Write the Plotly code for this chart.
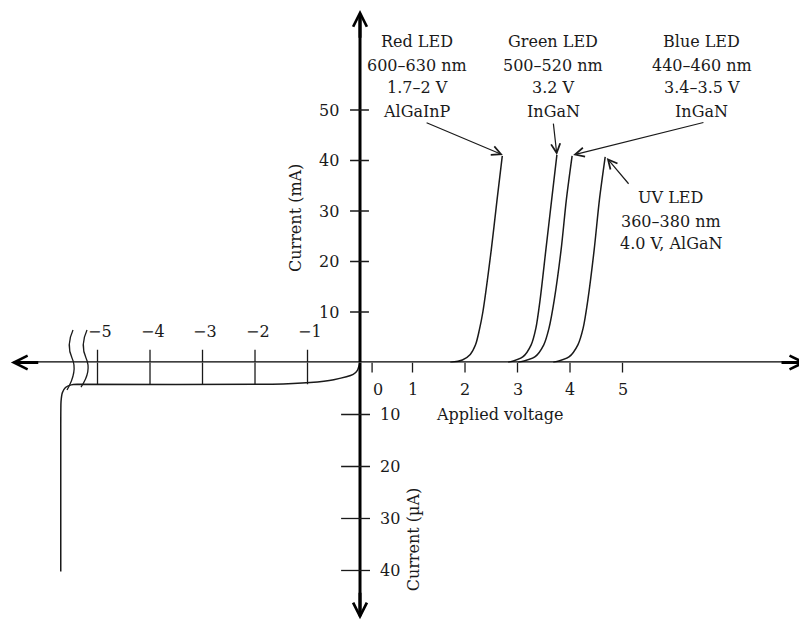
import plotly.graph_objects as go

# ---------------- data ----------------
# Forward characteristics: voltage (V) and current (mA)
red_v = [1.72, 1.95, 2.10, 2.20, 2.27, 2.34, 2.50, 2.61, 2.71]
red_i = [0, 0.5, 1.6, 3.5, 6.3, 10.0, 22.3, 32.2, 40.9]
green_v = [2.82, 3.10, 3.26, 3.35, 3.43, 3.54, 3.65, 3.75]
green_i = [0, 1.1, 3.5, 6.8, 12.4, 22.3, 32.2, 41.1]
blue_v = [3.01, 3.33, 3.50, 3.60, 3.70, 3.83, 3.93, 4.04]
blue_i = [0, 1.1, 3.5, 6.8, 12.4, 22.3, 32.2, 40.9]
uv_v = [3.68, 3.98, 4.15, 4.25, 4.34, 4.46, 4.56, 4.67]
uv_i = [0, 1.1, 3.5, 6.8, 12.4, 22.3, 32.2, 40.7]

# Reverse characteristic: voltage (V) and current (µA, negative = reverse)
rev_v = [0, -0.05, -0.13, -0.5, -0.95, -1.67, -5.39, -5.50, -5.61, -5.67, -5.695, -5.70, -5.70]
rev_i = [0, -1.5, -2.3, -3.3, -3.85, -4.2, -4.2, -4.3, -4.8, -5.8, -7.5, -12, -40.2]

# Axis ticks
neg_v_ticks = [-1, -2, -3, -4, -5]
neg_v_labels = ["\u22121", "\u22122", "\u22123", "\u22124", "\u22125"]
pos_v_ticks = [0, 1, 2, 3, 4, 5]
pos_v_labels = ["0", "1", "2", "3", "4", "5"]
ma_ticks = [10, 20, 30, 40, 50]
ua_ticks = [10, 20, 30, 40]

# Labels
red_label = ["Red LED", "600\u2013630 nm", "1.7\u20132 V", "AlGaInP"]
green_label = ["Green LED", "500\u2013520 nm", "3.2 V", "InGaN"]
blue_label = ["Blue LED", "440\u2013460 nm", "3.4\u20133.5 V", "InGaN"]
uv_label = ["UV LED", "360\u2013380 nm", "4.0 V, AlGaN"]

# ---------------- geometry / style ----------------
FONT = "DejaVu Serif"
INK = "#1a1a1a"
FW, FH = 799, 615                 # page body has an 8 px margin
X_RANGE = [-6.705, 8.514]
Y_SPLIT = 0.42358                 # paper fraction where current = 0
MA_RANGE = [0, 70.2]
UA_RANGE = [-50.1, 0]

fig = go.Figure()
line = dict(color=INK, width=1.5, shape="spline", smoothing=0.8)
for v, i in [(red_v, red_i), (green_v, green_i), (blue_v, blue_i), (uv_v, uv_i)]:
    fig.add_trace(go.Scatter(x=v, y=i, mode="lines", line=line, xaxis="x", yaxis="y",
                             hoverinfo="skip", showlegend=False))
fig.add_trace(go.Scatter(x=rev_v, y=rev_i, mode="lines",
                         line=dict(color=INK, width=1.5, shape="spline", smoothing=0.6),
                         xaxis="x", yaxis="y2", hoverinfo="skip", showlegend=False))

shapes = []
ann = []
tf = dict(family=FONT, size=16, color=INK)

# main axis lines
shapes.append(dict(type="line", xref="x", yref="y", x0=-6.6, x1=8.45, y0=0, y1=0,
                   line=dict(color="black", width=2.6)))
shapes.append(dict(type="line", xref="x", yref="y", x0=0, x1=0, y0=0, y1=69.0,
                   line=dict(color="black", width=3)))
shapes.append(dict(type="line", xref="x", yref="y2", x0=0, x1=0, y0=0, y1=-48.8,
                   line=dict(color="black", width=3)))
arrow_common = dict(text="", showarrow=True, arrowhead=5, arrowsize=0.9,
                    arrowwidth=3, arrowcolor="black", standoff=0)
ann.append(dict(x=8.5, y=0, ax=8.0, ay=0, xref="x", yref="y", axref="x", ayref="y",
                **arrow_common))
ann.append(dict(x=-6.65, y=0, ax=-6.1, ay=0, xref="x", yref="y", axref="x", ayref="y",
                **arrow_common))
ann.append(dict(x=0, y=69.8, ax=0, ay=64, xref="x", yref="y", axref="x", ayref="y",
                **arrow_common))
ann.append(dict(x=0, y=-49.4, ax=0, ay=-44, xref="x", yref="y2", axref="x", ayref="y2",
                **arrow_common))

tick_line = dict(color=INK, width=1.3)
# negative voltage ticks (cross the axis down to the reverse-current level)
for v, lab in zip(neg_v_ticks, neg_v_labels):
    shapes.append(dict(type="line", xref="x", yref="y", x0=v, x1=v, y0=0, y1=2.5, line=tick_line))
    shapes.append(dict(type="line", xref="x", yref="y2", x0=v, x1=v, y0=0, y1=-4.2, line=tick_line))
    ann.append(dict(x=v + 0.05, y=6.2, xref="x", yref="y", text=lab, showarrow=False, font=tf))
# positive voltage ticks (below the axis)
ZERO_SHIFT = 0.23
for v, lab in zip(pos_v_ticks, pos_v_labels):
    xv = v + ZERO_SHIFT if v == 0 else v
    shapes.append(dict(type="line", xref="x", yref="y2", x0=xv, x1=xv, y0=0, y1=-1.9, line=tick_line))
    ann.append(dict(x=xv + (0.11 if v == 0 else 0), y=-5.2, xref="x", yref="y2", text=lab,
                    showarrow=False, font=tf))
# mA ticks
for t in ma_ticks:
    shapes.append(dict(type="line", xref="x", yref="y", x0=-0.19, x1=0.17, y0=t, y1=t, line=tick_line))
    ann.append(dict(x=-0.36, y=t, xref="x", yref="y", text=str(t), showarrow=False,
                    xanchor="right", font=tf))
# µA ticks
for t in ua_ticks:
    shapes.append(dict(type="line", xref="x", yref="y2", x0=-0.36, x1=0.19, y0=-t, y1=-t, line=tick_line))
    ann.append(dict(x=0.34, y=-t, xref="x", yref="y2", text=str(t), showarrow=False,
                    xanchor="left", font=tf))

# axis titles
ann.append(dict(x=-1.24, y=28.6, xref="x", yref="y", text="Current (mA)", textangle=-90,
                showarrow=False, font=tf))
ann.append(dict(x=1.01, y=-34, xref="x", yref="y2", text="Current (\u00b5A)", textangle=-90,
                showarrow=False, font=tf))
ann.append(dict(x=2.67, y=-10, xref="x", yref="y2", text="Applied voltage",
                showarrow=False, font=tf))

# LED labels (one annotation per line for the original line spacing)
led_line_y = [63.47, 58.91, 54.36, 49.8]
for lines, xv in [(red_label, 1.09), (green_label, 3.68), (blue_label, 6.51)]:
    for txt, yv in zip(lines, led_line_y):
        ann.append(dict(x=xv, y=yv, xref="x", yref="y", text=txt, showarrow=False, font=tf))
uv_line_y = [32.77, 28.02, 23.47]
for txt, yv in zip(uv_label, uv_line_y):
    ann.append(dict(x=5.92, y=yv, xref="x", yref="y", text=txt, showarrow=False, font=tf))

# pointer arrows (head at curve top, tail under the label)
ptr = dict(text="", showarrow=True, arrowhead=5, arrowsize=1.5, arrowwidth=1.2,
           arrowcolor=INK, standoff=0, xref="x", yref="y", axref="x", ayref="y")
for (hx, hy, tx, ty) in [(2.72, 41.1, 1.24, 47.6), (3.75, 41.1, 3.68, 47.6),
                         (4.06, 41.1, 6.57, 47.6), (4.70, 40.5, 5.14, 35.1)]:
    ann.append(dict(x=hx, y=hy, ax=tx, ay=ty, **ptr))

# axis break glyphs
def px(xs, ys):
    return (xs - 360) / 52.5, (FH - (ys - 8)) / FH

def brk(x0, y_top, y_bot):
    a = px(x0, y_top)
    c1 = px(x0 - 7, y_top + 15)
    m = px(x0 - 1, y_top + 28)
    c2 = px(x0 + 5, y_top + 41)
    e = px(x0 - 6, y_bot)
    return ("M{:.4f},{:.4f} Q{:.4f},{:.4f} {:.4f},{:.4f} Q{:.4f},{:.4f} {:.4f},{:.4f}"
            .format(a[0], a[1], c1[0], c1[1], m[0], m[1], c2[0], c2[1], e[0], e[1]))

for x0, yb in [(73, 390), (87, 387)]:
    shapes.append(dict(type="path", xref="x", yref="paper", path=brk(x0, 330, yb),
                       line=dict(color=INK, width=1.3)))

fig.update_layout(
    width=FW, height=FH, margin=dict(l=0, r=0, t=0, b=0),
    paper_bgcolor="white", plot_bgcolor="white", showlegend=False,
    xaxis=dict(range=X_RANGE, visible=False, domain=[0, 1]),
    yaxis=dict(range=MA_RANGE, visible=False, domain=[Y_SPLIT, 1]),
    yaxis2=dict(range=UA_RANGE, visible=False, domain=[0, Y_SPLIT], anchor="x"),
    shapes=shapes, annotations=ann,
)
fig.write_html("out.html")
